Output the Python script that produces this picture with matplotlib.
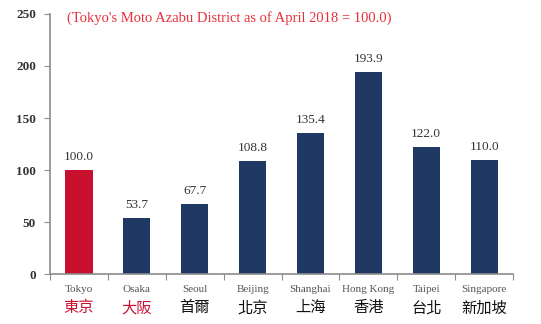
import matplotlib
matplotlib.use("Agg")
import matplotlib.pyplot as plt
import matplotlib.transforms as mtransforms

# Office rent index by city (Tokyo Moto Azabu, April 2018 = 100)
cities = ["Tokyo", "Osaka", "Seoul", "Beijing", "Shanghai", "Hong Kong", "Taipei", "Singapore"]
cities_cjk = ["東京", "大阪", "首爾", "北京", "上海", "香港", "台北", "新加坡"]
index_values = [100.0, 53.7, 67.7, 108.8, 135.4, 193.9, 122.0, 110.0]
yticks = [0, 50, 100, 150, 200, 250]

RED = "#C8102E"
NAVY = "#1F3864"
GRAY = "#8c8c8c"
SERIF = "Liberation Serif"

bar_colors = [RED] + [NAVY] * (len(cities) - 1)
cjk_colors = [RED, RED] + ["#111111"] * (len(cities) - 2)

fig = plt.figure(figsize=(5.41, 3.24), dpi=100)
ax = fig.add_axes([0.0924, 0.154, 0.856, 0.803])

x = list(range(len(cities)))
bars = ax.bar(x, index_values, width=0.47, color=bar_colors)

for xi, v in zip(x, index_values):
    ax.annotate(f"{v:.1f}", (xi, v), xytext=(0, 5), textcoords="offset points",
                ha="center", va="bottom", fontsize=9.5, family=SERIF, color="#333333")

ax.set_xlim(-0.5, len(cities) - 0.5)
ax.set_ylim(0, 250)
ax.set_yticks(yticks)
ax.set_yticklabels([str(t) for t in yticks], family=SERIF, fontsize=9.5,
                   fontweight="bold", color="#333333")

# ticks sit between categories, labels sit under each bar
ax.set_xticks([i - 0.5 for i in range(len(cities) + 1)])
ax.set_xticklabels([])
ax.tick_params(axis="x", length=4, color=GRAY, direction="out")
ax.tick_params(axis="y", length=4, color=GRAY, direction="out", pad=6)

trans = mtransforms.blended_transform_factory(ax.transData, ax.transAxes)
for xi, name, cjk, c in zip(x, cities, cities_cjk, cjk_colors):
    ax.text(xi, -0.058, name, transform=trans, ha="center", va="center",
            fontsize=8, family=SERIF, color="#555555")
    ax.text(xi, -0.13, cjk, transform=trans, ha="center", va="center",
            fontsize=11, family=["Noto Sans CJK TC", "DejaVu Sans"], color=c)

for side in ["top", "right"]:
    ax.spines[side].set_visible(False)
for side in ["left", "bottom"]:
    ax.spines[side].set_color(GRAY)
    ax.spines[side].set_linewidth(1.2)

ax.text(0.037, 0.985, "(Tokyo's Moto Azabu District as of April 2018 = 100.0)",
        transform=ax.transAxes, ha="left", va="center", fontsize=10.5,
        family=SERIF, color="#E8303A")

fig.savefig("out.png", dpi=100)
